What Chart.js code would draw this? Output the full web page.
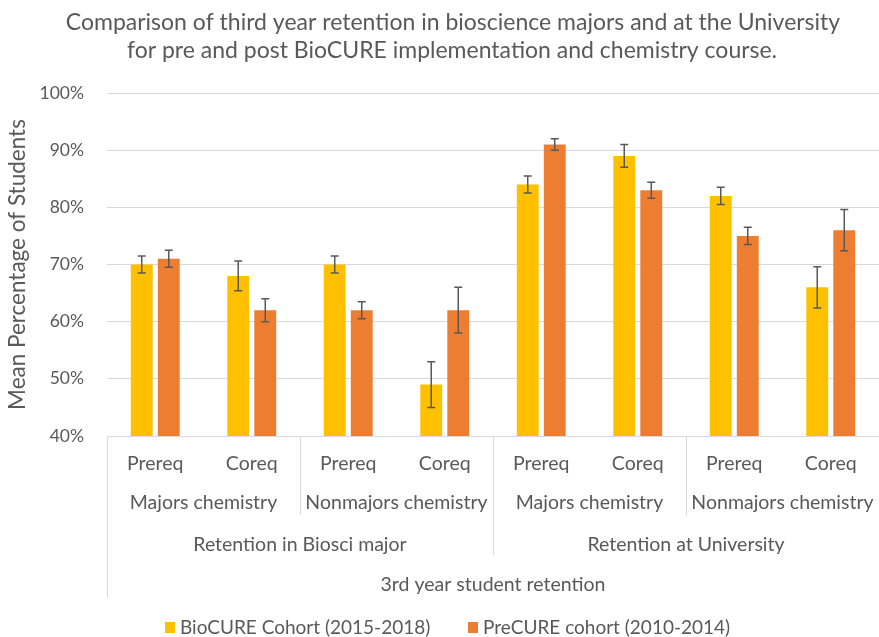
<!DOCTYPE html>
<html lang="en">
<head>
<meta charset="UTF-8">
<title>BioCURE retention</title>
<style>
  body { margin: 0; background: #fff; }
  .wrap { width: 879px; height: 637px; position: relative; }
</style>
</head>
<body>
<div class="wrap"><canvas id="myChart"></canvas></div>

<script src="https://cdn.jsdelivr.net/npm/chart.js"></script>
<script>
// data
const categories = ['Prereq', 'Coreq', 'Prereq', 'Coreq', 'Prereq', 'Coreq', 'Prereq', 'Coreq'];
const subGroups = ['Majors chemistry', 'Nonmajors chemistry', 'Majors chemistry', 'Nonmajors chemistry'];
const groups = ['Retention in Biosci major', 'Retention at University'];
const topGroup = '3rd year student retention';

const biocure = [70, 68, 70, 49, 84, 89, 82, 66];
const biocureErr = [1.5, 2.6, 1.5, 4.0, 1.5, 2.0, 1.5, 3.6];
const precure = [71, 62, 62, 62, 91, 83, 75, 76];
const precureErr = [1.5, 2.0, 1.5, 4.0, 1.0, 1.4, 1.5, 3.6];

const seriesNames = ['BioCURE Cohort (2015-2018)', 'PreCURE cohort (2010-2014)'];
const seriesColors = ['#FFC000', '#ED7D31'];
const titleLines = [
  'Comparison of third year retention in bioscience majors and at the University',
  'for pre and post BioCURE implementation and chemistry course.'
];

const FONT = 'Lato, "Open Sans", sans-serif';
const GREY = '#595959';

// error bars, category labels, title and legend
const extras = {
  id: 'extras',
  afterDatasetsDraw(chart) {
    const ctx = chart.ctx;
    const y = chart.scales.y;
    const errs = [biocureErr, precureErr];
    ctx.save();
    ctx.strokeStyle = GREY;
    ctx.lineWidth = 1.5;
    chart.data.datasets.forEach((ds, di) => {
      const meta = chart.getDatasetMeta(di);
      meta.data.forEach((bar, i) => {
        const v = ds.data[i];
        const e = errs[di][i];
        const y1 = y.getPixelForValue(v + e);
        const y2 = y.getPixelForValue(v - e);
        ctx.beginPath();
        ctx.moveTo(bar.x, y1); ctx.lineTo(bar.x, y2);
        ctx.moveTo(bar.x - 4, y1); ctx.lineTo(bar.x + 4, y1);
        ctx.moveTo(bar.x - 4, y2); ctx.lineTo(bar.x + 4, y2);
        ctx.stroke();
      });
    });
    ctx.restore();
  },
  afterDraw(chart) {
    const ctx = chart.ctx;
    const x = chart.scales.x;
    const bottom = chart.chartArea.bottom;
    const step = x.getPixelForValue(1) - x.getPixelForValue(0);
    const edge = i => x.getPixelForValue(i) - step / 2;

    ctx.save();
    ctx.fillStyle = GREY;
    ctx.textAlign = 'center';
    ctx.textBaseline = 'middle';

    // level 1
    ctx.font = '19.5px ' + FONT;
    categories.forEach((c, i) => ctx.fillText(c, x.getPixelForValue(i), bottom + 28));
    // level 2
    subGroups.forEach((s, i) => ctx.fillText(s, (edge(i * 2) + edge(i * 2 + 2)) / 2, bottom + 67));
    // level 3
    groups.forEach((g, i) => ctx.fillText(g, (edge(i * 4) + edge(i * 4 + 4)) / 2, bottom + 109));
    // level 4
    ctx.fillText(topGroup, (edge(0) + edge(8)) / 2, bottom + 149);

    // separators
    ctx.strokeStyle = '#d9d9d9';
    ctx.lineWidth = 1;
    const sep = (i, len) => {
      const px = Math.round(edge(i)) + 0.5;
      ctx.beginPath(); ctx.moveTo(px, bottom); ctx.lineTo(px, bottom + len); ctx.stroke();
    };
    sep(2, 79); sep(6, 79);
    sep(4, 119);
    sep(0, 161);

    // title
    ctx.font = '23px ' + FONT;
    ctx.fillText(titleLines[0], 453, 23);
    ctx.fillText(titleLines[1], 452, 51);

    // legend
    ctx.font = '19px ' + FONT;
    ctx.textAlign = 'left';
    const lx = [165, 468];
    seriesNames.forEach((n, i) => {
      ctx.fillStyle = seriesColors[i];
      ctx.fillRect(lx[i], 622, 10, 11);
      ctx.fillStyle = GREY;
      ctx.fillText(n, lx[i] + 15, 628);
    });
    ctx.restore();
  }
};

const ctx = document.getElementById('myChart');

new Chart(ctx, {
  type: 'bar',
  data: {
    labels: categories,
    datasets: [
      { label: seriesNames[0], data: biocure, backgroundColor: seriesColors[0] },
      { label: seriesNames[1], data: precure, backgroundColor: seriesColors[1] }
    ]
  },
  options: {
    responsive: true,
    maintainAspectRatio: false,
    animation: false,
    devicePixelRatio: 1,
    layout: { padding: { top: 93, right: 0, bottom: 0, left: 0 } },
    datasets: { bar: { categoryPercentage: 0.56, barPercentage: 0.81 } },
    plugins: {
      legend: { display: false },
      title: { display: false },
      tooltip: { enabled: false }
    },
    scales: {
      x: {
        ticks: { display: false },
        grid: { display: false },
        border: { color: '#d9d9d9' },
        afterFit(scale) { scale.height = 201; }
      },
      y: {
        min: 40,
        max: 100,
        ticks: {
          stepSize: 10,
          padding: 23,
          color: GREY,
          font: { family: FONT, size: 17.5 },
          callback: v => v + '%'
        },
        grid: { color: '#d9d9d9', drawTicks: false },
        border: { display: false },
        title: {
          display: true,
          text: 'Mean Percentage of Students',
          color: GREY,
          font: { family: FONT, size: 22.5 },
          padding: { top: 4, bottom: 0 }
        },
        afterFit(scale) { scale.width = 107; }
      }
    }
  },
  plugins: [extras]
});
</script>
</body>
</html>
